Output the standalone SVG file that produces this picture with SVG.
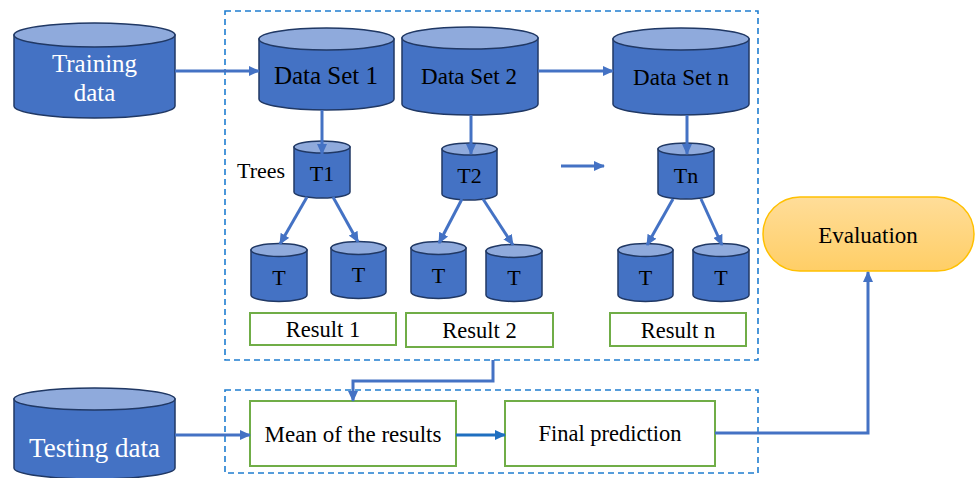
<svg xmlns="http://www.w3.org/2000/svg" width="976" height="478" viewBox="0 0 976 478">
  <defs>
    <marker id="arrow" markerUnits="userSpaceOnUse" markerWidth="11" markerHeight="10" refX="10" refY="5" orient="auto">
      <path d="M0,0 L11,5 L0,10 z" fill="#4472C4"/>
    </marker>
    <marker id="arrowDark" markerUnits="userSpaceOnUse" markerWidth="11" markerHeight="10" refX="10" refY="5" orient="auto">
      <path d="M0,0 L11,5 L0,10 z" fill="#1F6FC0"/>
    </marker>
    <linearGradient id="evalFill" x1="0" y1="0" x2="0" y2="1">
      <stop offset="0" stop-color="#FFDD99"/>
      <stop offset="1" stop-color="#FFCE66"/>
    </linearGradient>
  </defs>
  <style>
    .body { fill: #4472C4; stroke: #203864; stroke-width: 1.5; }
    .top { fill: #8FAADC; stroke: #203864; stroke-width: 1.5; }
    .lbl { font-family: "Liberation Serif", "Times New Roman", serif; fill: #000; text-anchor: middle; }
    .wlbl { font-family: "Liberation Serif", "Times New Roman", serif; fill: #fff; text-anchor: middle; }
    .frame { fill: none; stroke: #1F7DD0; stroke-width: 1.6; stroke-dasharray: 6 4; }
    .res { fill: #fff; stroke: #70AD47; stroke-width: 2; }
    .conn { fill: none; stroke: #4472C4; stroke-width: 3; }
  </style>

  <rect x="0" y="0" width="976" height="478" fill="#fff"/>

  <!-- dashed frames -->
  <rect class="frame" x="225" y="11" width="533" height="349"/>
  <rect class="frame" x="225" y="390" width="533" height="83"/>

  <!-- Training data -->
  <g id="training-data">
    <path class="body" d="M14,35 V106 A80.5,12 0 0 0 175,106 V35 z"/>
    <ellipse class="top" cx="94.5" cy="35" rx="80.5" ry="12"/>
    <text class="wlbl" x="94.5" y="72" font-size="25">Training</text>
    <text class="wlbl" x="94.5" y="101" font-size="25">data</text>
  </g>

  <!-- Data sets -->
  <g id="data-set-1">
    <path class="body" d="M259,39 V99 A67.5,11 0 0 0 394,99 V39 z"/>
    <ellipse class="top" cx="326.5" cy="39" rx="67.5" ry="11"/>
    <text class="lbl" x="326" y="84" font-size="25">Data Set 1</text>
  </g>
  <g id="data-set-2">
    <path class="body" d="M402,38 V104 A68,11 0 0 0 538,104 V38 z"/>
    <ellipse class="top" cx="470" cy="38" rx="68" ry="11"/>
    <text class="lbl" x="469" y="84" font-size="23">Data Set 2</text>
  </g>
  <g id="data-set-n">
    <path class="body" d="M613,39 V104 A68,11 0 0 0 749,104 V39 z"/>
    <ellipse class="top" cx="681" cy="39" rx="68" ry="11"/>
    <text class="lbl" x="681" y="85" font-size="23">Data Set n</text>
  </g>

  <!-- Trees -->
  <text class="lbl" x="237" y="178" font-size="22" style="text-anchor:start">Trees</text>
  <g id="tree-1">
    <path class="body" d="M294,147 V192 A28,6 0 0 0 350,192 V147 z"/>
    <ellipse class="top" cx="322" cy="147" rx="28" ry="6"/>
    <text class="lbl" x="322" y="181" font-size="22">T1</text>
  </g>
  <g id="tree-2">
    <path class="body" d="M442,149 V194 A27.5,6 0 0 0 497,194 V149 z"/>
    <ellipse class="top" cx="469.5" cy="149" rx="27.5" ry="6"/>
    <text class="lbl" x="469.5" y="183" font-size="22">T2</text>
  </g>
  <g id="tree-n">
    <path class="body" d="M658,149 V193 A28,6 0 0 0 714,193 V149 z"/>
    <ellipse class="top" cx="686" cy="149" rx="28" ry="6"/>
    <text class="lbl" x="686" y="183" font-size="22">Tn</text>
  </g>

  <!-- Leaves -->
  <g id="leaf-1a">
    <path class="body" d="M251,250 V295 A28,6.5 0 0 0 307,295 V250 z"/>
    <ellipse class="top" cx="279" cy="250" rx="28" ry="6.5"/>
    <text class="lbl" x="279" y="285" font-size="22">T</text>
  </g>
  <g id="leaf-1b">
    <path class="body" d="M331,248 V292 A27.5,6.5 0 0 0 386,292 V248 z"/>
    <ellipse class="top" cx="358.5" cy="248" rx="27.5" ry="6.5"/>
    <text class="lbl" x="358.5" y="282" font-size="22">T</text>
  </g>
  <g id="leaf-2a">
    <path class="body" d="M411,248 V292 A27.5,6.5 0 0 0 466,292 V248 z"/>
    <ellipse class="top" cx="438.5" cy="248" rx="27.5" ry="6.5"/>
    <text class="lbl" x="438.5" y="283" font-size="22">T</text>
  </g>
  <g id="leaf-2b">
    <path class="body" d="M486,251 V295 A28,6.5 0 0 0 542,295 V251 z"/>
    <ellipse class="top" cx="514" cy="251" rx="28" ry="6.5"/>
    <text class="lbl" x="514" y="285" font-size="22">T</text>
  </g>
  <g id="leaf-na">
    <path class="body" d="M618,250 V295 A27.5,6.5 0 0 0 673,295 V250 z"/>
    <ellipse class="top" cx="645.5" cy="250" rx="27.5" ry="6.5"/>
    <text class="lbl" x="645.5" y="285" font-size="22">T</text>
  </g>
  <g id="leaf-nb">
    <path class="body" d="M693,250 V295 A28,6.5 0 0 0 749,295 V250 z"/>
    <ellipse class="top" cx="721" cy="250" rx="28" ry="6.5"/>
    <text class="lbl" x="721" y="285" font-size="22">T</text>
  </g>

  <!-- Results -->
  <g id="result-1">
    <rect class="res" x="250" y="313" width="146" height="32"/>
    <text class="lbl" x="323" y="337" font-size="22.5">Result 1</text>
  </g>
  <g id="result-2">
    <rect class="res" x="406" y="313" width="147" height="34"/>
    <text class="lbl" x="479.5" y="338" font-size="22.5">Result 2</text>
  </g>
  <g id="result-n">
    <rect class="res" x="610" y="313" width="136" height="33"/>
    <text class="lbl" x="678" y="338" font-size="22.5">Result n</text>
  </g>

  <!-- Testing data -->
  <g id="testing-data">
    <path class="body" d="M14,399 V468 A80.5,11 0 0 0 175,468 V399 z"/>
    <ellipse class="top" cx="94.5" cy="399" rx="80.5" ry="11"/>
    <text class="wlbl" x="94.5" y="457" font-size="27">Testing data</text>
  </g>

  <!-- Aggregation -->
  <g id="mean">
    <rect class="res" x="250" y="401" width="206" height="65"/>
    <text class="lbl" x="353" y="442" font-size="23">Mean of the results</text>
  </g>
  <g id="final-prediction">
    <rect class="res" x="505" y="401" width="210" height="65"/>
    <text class="lbl" x="610" y="441" font-size="22.5">Final prediction</text>
  </g>

  <!-- Evaluation -->
  <g id="evaluation">
    <rect x="763" y="197" width="211" height="74" rx="37" ry="37" fill="url(#evalFill)" stroke="#FFC000" stroke-width="1.5"/>
    <text class="lbl" x="868" y="243" font-size="23">Evaluation</text>
  </g>

  <!-- connectors -->
  <g id="connectors">
    <line class="conn" x1="175" y1="71" x2="259" y2="71" marker-end="url(#arrow)"/>
    <line class="conn" x1="538" y1="71" x2="613" y2="71" marker-end="url(#arrow)"/>
    <line class="conn" x1="322" y1="110" x2="322" y2="154" marker-end="url(#arrow)"/>
    <line class="conn" x1="471" y1="115" x2="471" y2="154" marker-end="url(#arrow)"/>
    <line class="conn" x1="687" y1="115" x2="687" y2="154" marker-end="url(#arrow)"/>
    <line class="conn" x1="561" y1="166" x2="604" y2="166" marker-end="url(#arrow)"/>
    <line class="conn" x1="307" y1="197" x2="280" y2="244" marker-end="url(#arrow)"/>
    <line class="conn" x1="333" y1="197" x2="358" y2="242" marker-end="url(#arrow)"/>
    <line class="conn" x1="462" y1="199" x2="439" y2="243" marker-end="url(#arrow)"/>
    <line class="conn" x1="483" y1="199" x2="513" y2="245" marker-end="url(#arrow)"/>
    <line class="conn" x1="673" y1="199" x2="647" y2="245" marker-end="url(#arrow)"/>
    <line class="conn" x1="701" y1="199" x2="722" y2="245" marker-end="url(#arrow)"/>
    <path class="conn" d="M493,360 V381 H353 V401" marker-end="url(#arrow)"/>
    <line class="conn" x1="175" y1="435" x2="250" y2="435" marker-end="url(#arrow)"/>
    <line class="conn" x1="456" y1="435" x2="505" y2="435" style="stroke:#1F6FC0" marker-end="url(#arrowDark)"/>
    <path class="conn" d="M715,433 H868 V272" marker-end="url(#arrow)"/>
  </g>
</svg>
